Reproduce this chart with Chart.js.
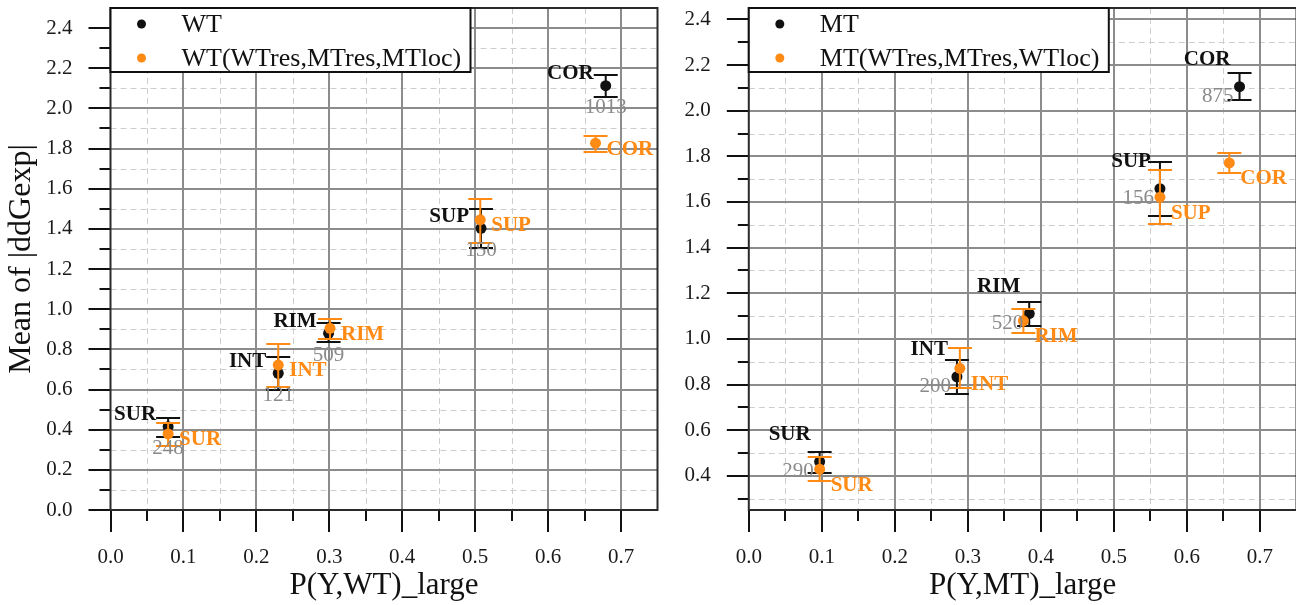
<!DOCTYPE html>
<html>
<head>
<meta charset="utf-8">
<title>Mean of |ddGexp| vs P(Y)_large</title>
<script src="https://cdn.jsdelivr.net/npm/chart.js@4.4.1/dist/chart.umd.min.js"></script>
<style>
  body { margin: 0; background: #fff; overflow: hidden; }
  .panel { position: absolute; top: 0; }
</style>
</head>
<body>
<div class="panel" style="left:0"><canvas id="wtChart" width="663" height="605"></canvas></div>
<div class="panel" style="left:662px"><canvas id="mtChart" width="640" height="605"></canvas></div>
<script>
const regions = ["SUR", "INT", "RIM", "SUP", "COR"];

// left panel, WT
const wtCounts = [248, 121, 509, 150, 1013];
const wtP    = [0.079, 0.230, 0.299, 0.508, 0.679];
const wtMean = [0.415, 0.681, 0.880, 1.403, 2.113];
const wtLo   = [0.365, 0.598, 0.839, 1.304, 2.058];
const wtHi   = [0.457, 0.764, 0.930, 1.500, 2.167];

const wtSwapP    = [0.079, 0.230, 0.301, 0.507, 0.665];
const wtSwapMean = [0.379, 0.722, 0.905, 1.445, 1.827];
const wtSwapLo   = [0.320, 0.611, 0.851, 1.329, 1.785];
const wtSwapHi   = [0.432, 0.826, 0.952, 1.550, 1.863];

// right panel, MT
const mtCounts = [290, 200, 520, 156, 875];
const mtP    = [0.097, 0.285, 0.384, 0.563, 0.672];
const mtMean = [0.462, 0.834, 1.111, 1.658, 2.105];
const mtLo   = [0.414, 0.758, 1.056, 1.537, 2.048];
const mtHi   = [0.506, 0.907, 1.162, 1.774, 2.163];

const mtSwapP    = [0.097, 0.289, 0.376, 0.563, 0.658];
const mtSwapMean = [0.429, 0.871, 1.079, 1.621, 1.771];
const mtSwapLo   = [0.375, 0.783, 1.026, 1.505, 1.727];
const mtSwapHi   = [0.484, 0.958, 1.130, 1.738, 1.816];

const BLACK = "#111111";
const ORANGE = "#ff8a14";
const SERIF = "'Liberation Serif', 'Times New Roman', serif";

const isMajor = (v, step) => Math.abs(v / step - Math.round(v / step)) < 1e-6;
const stepsIn = (min, max, step) => {
  const out = [];
  for (let k = Math.ceil(min / step - 1e-6); k * step <= max + 1e-9; k++) out.push(k * step);
  return out;
};
const toPoints = (xs, ys) => xs.map((x, i) => ({ x: x, y: ys[i] }));
const noPadding = s => { s.paddingTop = 0; s.paddingBottom = 0; s.paddingLeft = 0; s.paddingRight = 0; };

// grid, tick marks and frame, drawn through the chart's own scales
const frame = {
  id: "frame",
  beforeDatasetsDraw(chart) {
    const { ctx, chartArea: a, scales: { x, y } } = chart;
    ctx.save();
    ctx.lineWidth = 1;
    ctx.strokeStyle = "#cdcdcd";
    ctx.setLineDash([6, 4]);
    stepsIn(x.min, x.max, 0.05).forEach(v => {
      if (isMajor(v, 0.1) || v >= x.max - 1e-6) return;
      const px = Math.round(x.getPixelForValue(v)) + 0.5;
      ctx.beginPath(); ctx.moveTo(px, a.top); ctx.lineTo(px, a.bottom); ctx.stroke();
    });
    stepsIn(y.min, y.max, 0.1).forEach(v => {
      if (isMajor(v, 0.2) || v >= y.max - 1e-6 || v <= y.min + 1e-6) return;
      const py = Math.round(y.getPixelForValue(v)) + 0.5;
      ctx.beginPath(); ctx.moveTo(a.left, py); ctx.lineTo(a.right, py); ctx.stroke();
    });
    ctx.setLineDash([]);
    ctx.lineWidth = 2;
    ctx.strokeStyle = "#8c8c8c";
    stepsIn(x.min, x.max, 0.1).forEach(v => {
      if (v <= x.min + 1e-6 || v >= x.max - 1e-6) return;
      const px = Math.round(x.getPixelForValue(v));
      ctx.beginPath(); ctx.moveTo(px, a.top); ctx.lineTo(px, a.bottom); ctx.stroke();
    });
    stepsIn(y.min, y.max, 0.2).forEach(v => {
      if (v <= y.min + 1e-6 || v >= y.max - 1e-6) return;
      const py = Math.round(y.getPixelForValue(v));
      ctx.beginPath(); ctx.moveTo(a.left, py); ctx.lineTo(a.right, py); ctx.stroke();
    });
    ctx.restore();
  },
  afterDraw(chart) {
    const { ctx, chartArea: a, scales: { x, y } } = chart;
    ctx.save();
    ctx.lineWidth = 2;
    ctx.strokeStyle = BLACK;
    // tick marks outside the plot
    stepsIn(x.min, x.max, 0.05).forEach(v => {
      if (v >= x.max - 1e-6) return;
      const px = Math.round(x.getPixelForValue(v));
      const len = isMajor(v, 0.1) ? 22 : 11;
      ctx.beginPath(); ctx.moveTo(px, a.bottom); ctx.lineTo(px, a.bottom + len); ctx.stroke();
    });
    stepsIn(y.min, y.max, 0.1).forEach(v => {
      if (v >= y.max - 1e-6) return;
      const py = Math.round(y.getPixelForValue(v));
      const len = isMajor(v, 0.2) ? 22 : 11;
      ctx.beginPath(); ctx.moveTo(a.left, py); ctx.lineTo(a.left - len, py); ctx.stroke();
    });
    ctx.strokeStyle = "#2a2a2a";
    ctx.strokeRect(a.left, a.top, a.right - a.left, a.bottom - a.top);

    // legend box in the top left corner
    const boxW = 360, boxH = 64;
    ctx.fillStyle = "#fff";
    ctx.fillRect(a.left, a.top, boxW, boxH);
    ctx.strokeStyle = BLACK;
    ctx.strokeRect(a.left, a.top, boxW, boxH);
    ctx.font = "26px " + SERIF;
    ctx.textBaseline = "middle";
    ctx.textAlign = "left";
    chart.data.datasets.forEach((ds, i) => {
      const cy = a.top + 16 + 34 * i;
      ctx.fillStyle = ds.backgroundColor;
      ctx.beginPath(); ctx.arc(a.left + 31, cy, 4.5, 0, Math.PI * 2); ctx.fill();
      ctx.fillStyle = BLACK;
      ctx.fillText(ds.label, a.left + 71, cy + 1);
    });
    ctx.restore();
  }
};

// error bars go under their own points
const errorBars = {
  id: "errorBars",
  beforeDatasetDraw(chart, args) {
    const ds = chart.data.datasets[args.index];
    const { ctx, scales: { x, y } } = chart;
    ctx.save();
    ctx.strokeStyle = ds.borderColor;
    ctx.lineWidth = 2;
    ds.data.forEach((p, i) => {
      const px = x.getPixelForValue(p.x);
      const top = Math.round(y.getPixelForValue(ds.errHi[i]));
      const bot = Math.round(y.getPixelForValue(ds.errLo[i]));
      ctx.beginPath();
      ctx.moveTo(px, top); ctx.lineTo(px, bot);
      ctx.moveTo(px - 12, top); ctx.lineTo(px + 12, top);
      ctx.moveTo(px - 12, bot); ctx.lineTo(px + 12, bot);
      ctx.stroke();
    });
    ctx.restore();
  },
  afterDatasetsDraw(chart) {
    const { ctx, scales: { x, y } } = chart;
    ctx.save();
    ctx.textBaseline = "middle";
    chart.data.datasets.forEach(ds => {
      ds.data.forEach((p, i) => {
        const px = x.getPixelForValue(p.x);
        const py = y.getPixelForValue(p.y);
        const n = ds.nameAt;
        ctx.font = "bold 21px " + SERIF;
        ctx.fillStyle = ds.borderColor;
        ctx.textAlign = n.align;
        ctx.fillText(ds.names[i], px + n.dx, py + n.dy);
        if (ds.counts) {
          const c = ds.countAt;
          ctx.font = "21px " + SERIF;
          ctx.fillStyle = "#8a8a8a";
          ctx.textAlign = c.align;
          ctx.fillText(String(ds.counts[i]), px + c.dx, py + c.dy);
        }
      });
    });
    ctx.restore();
  }
};

function makePanel(id, opt) {
  const tickFont = { family: SERIF, size: 21 };
  return new Chart(document.getElementById(id), {
    type: "scatter",
    data: {
      datasets: [
        {
          label: opt.labels[0],
          data: toPoints(opt.p, opt.mean),
          errLo: opt.lo, errHi: opt.hi,
          names: regions, counts: opt.counts,
          nameAt: opt.nameAt, countAt: opt.countAt,
          backgroundColor: BLACK, borderColor: BLACK,
          pointRadius: 5.5, borderWidth: 0, order: 1
        },
        {
          label: opt.labels[1],
          data: toPoints(opt.swapP, opt.swapMean),
          errLo: opt.swapLo, errHi: opt.swapHi,
          names: regions,
          nameAt: { align: "left", dx: 11, dy: opt.swapDy },
          backgroundColor: ORANGE, borderColor: ORANGE,
          pointRadius: 5.5, borderWidth: 0, order: 0
        }
      ]
    },
    options: {
      responsive: false,
      animation: false,
      events: [],
      layout: { padding: { top: 8, right: 3, left: 0, bottom: 0 } },
      plugins: { legend: { display: false }, tooltip: { enabled: false } },
      scales: {
        x: {
          type: "linear", min: 0, max: 0.75,
          grid: { display: false, drawTicks: false },
          border: { display: false },
          afterBuildTicks: s => { s.ticks = stepsIn(s.min, s.max, 0.1).map(v => ({ value: v })); },
          ticks: {
            autoSkip: false, maxRotation: 0,
            padding: 35, color: "#1a1a1a", font: tickFont,
            callback: v => isMajor(v, 0.1) ? v.toFixed(1) : null
          },
          title: {
            display: true, text: opt.xTitle, color: BLACK,
            font: { family: SERIF, size: 31 }, padding: { top: 0, bottom: 1 }
          },
          afterFit: s => { s.height = 95; noPadding(s); }
        },
        y: {
          type: "linear", min: opt.yMin, max: opt.yMax,
          grid: { display: false, drawTicks: false },
          border: { display: false },
          afterBuildTicks: s => { s.ticks = stepsIn(s.min, s.max, 0.1).map(v => ({ value: v })); },
          ticks: {
            autoSkip: false,
            padding: 38, color: "#1a1a1a", font: tickFont,
            callback: v => isMajor(v, 0.2) ? v.toFixed(1) : null
          },
          title: {
            display: !!opt.yTitle, text: opt.yTitle || "", color: BLACK,
            font: { family: SERIF, size: 32 }, padding: { top: 2, bottom: 0 }
          },
          afterFit: s => { s.width = opt.yWidth; noPadding(s); }
        }
      }
    },
    plugins: [frame, errorBars]
  });
}

makePanel("wtChart", {
  labels: ["WT", "WT(WTres,MTres,MTloc)"],
  p: wtP, mean: wtMean, lo: wtLo, hi: wtHi, counts: wtCounts,
  swapP: wtSwapP, swapMean: wtSwapMean, swapLo: wtSwapLo, swapHi: wtSwapHi,
  nameAt: { align: "right", dx: -12, dy: -12 },
  countAt: { align: "center", dx: 0, dy: 22 },
  swapDy: 6,
  xTitle: "P(Y,WT)_large", yTitle: "Mean of |ddGexp|",
  yMin: 0, yMax: 2.5, yWidth: 110.5
});

makePanel("mtChart", {
  labels: ["MT", "MT(WTres,MTres,WTloc)"],
  p: mtP, mean: mtMean, lo: mtLo, hi: mtHi, counts: mtCounts,
  swapP: mtSwapP, swapMean: mtSwapMean, swapLo: mtSwapLo, swapHi: mtSwapHi,
  nameAt: { align: "right", dx: -9, dy: -27 },
  countAt: { align: "right", dx: -6, dy: 10 },
  swapDy: 16,
  xTitle: "P(Y,MT)_large",
  yMin: 0.25, yMax: 2.45, yWidth: 86.8
});
</script>
</body>
</html>
